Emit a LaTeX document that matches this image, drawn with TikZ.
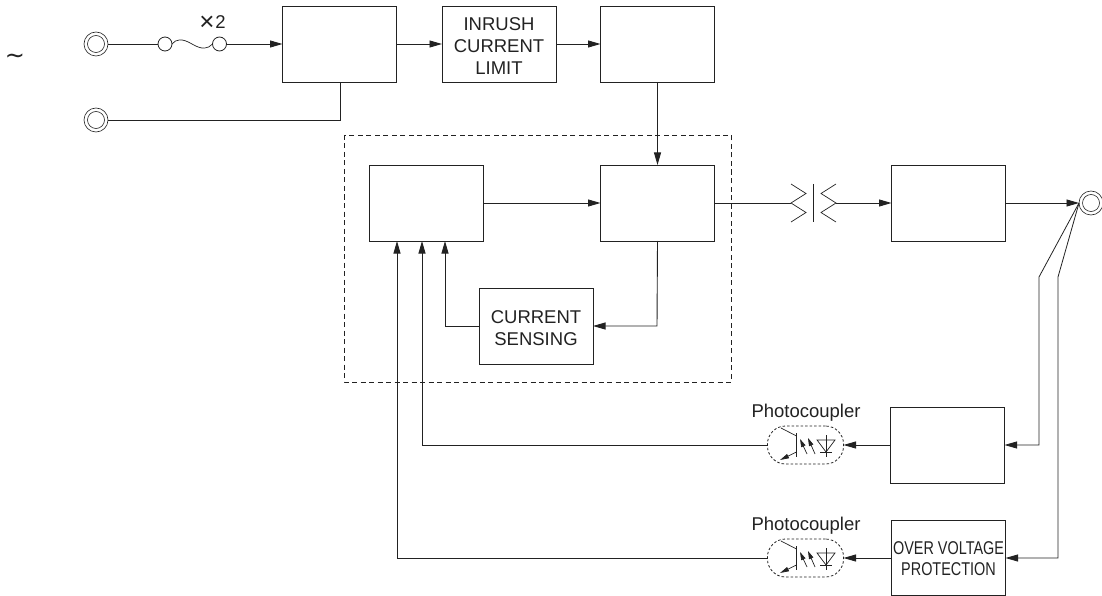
\documentclass[tikz,border=0pt]{standalone}
\usepackage{fontspec}
\setmainfont{Liberation Sans}
\newfontfamily\symfont{DejaVu Sans}
\usetikzlibrary{arrows.meta,calc}
\definecolor{ink}{HTML}{222222}
% the extra height above the block moves the text down by half of it inside its box
\newcommand{\boxtext}[2]{\raisebox{0pt}[\dimexpr\height+#1\relax][\depth]{#2}}
\tikzset{
  bx/.style={draw=ink,line width=0.9pt,inner sep=0pt,outer sep=0pt,align=center,text=ink,font=\fontsize{18.5}{22}\selectfont},
  big/.style={bx,minimum width=114pt,minimum height=76pt},
  ln/.style={draw=ink,line width=0.9pt},
  arr/.style={ln,-{Triangle[length=12.5pt,width=7pt]}},
  thin/.style={draw=ink,line width=0.7pt},
  termo/.style={circle,draw=ink,line width=0.6pt,minimum size=24pt,inner sep=0pt,outer sep=0pt},
  termi/.style={circle,draw=ink,line width=0.6pt,minimum size=17pt,inner sep=0pt},
  fusec/.style={circle,draw=ink,line width=0.8pt,minimum size=14pt,inner sep=0pt,outer sep=0pt},
  pc/.style={draw=ink,dashed,dash pattern=on 2.5pt off 2pt,line width=0.8pt,rounded corners=18pt,minimum width=76pt,minimum height=38pt,inner sep=0pt,outer sep=0pt},
  lbl/.style={text=ink,inner sep=0pt,font=\fontsize{18.5}{22}\selectfont},
  smalltip/.style={thin,-{Triangle[length=8pt,width=4.5pt]}}
}
\newcommand{\coupler}[2]{%
  \node[pc] (#1) at (805.5,#2) {};
  \coordinate (#1c1) at (781,#2-17);
  \coordinate (#1c2) at (796.5,#2-9);
  \coordinate (#1e1) at (796.5,#2+7);
  \coordinate (#1e2) at (780,#2+15);
  \draw[ln,line width=1pt] (796.5,#2-12) -- (796.5,#2+12);
  \draw[thin] (#1c1) -- (#1c2);
  \draw[thin,-{Triangle[length=9pt,width=4.5pt]}] (#1e1) -- (#1e2);
  \draw[smalltip] (807,#2+9) -- (800,#2-6);
  \draw[smalltip] (815,#2+9) -- (808,#2-7);
  \draw[thin] (817,#2-5) -- (835,#2-5) -- (826,#2+7) -- cycle;
  \draw[thin] (820,#2+7) -- (832,#2+7);
  \draw[thin] (826,#2-10) -- (826,#2+12);
}
\begin{document}
\begin{tikzpicture}[x=1pt,y=-1pt]
\useasboundingbox (0,0) rectangle (1102,596);
% dashed enclosure
\draw[ink,line width=0.8pt,dash pattern=on 5pt off 3.5pt] (344,135) rectangle (731,382);
% boxes
\node[big] (b1) at (339.5,44) {};
\node[big] (inrush) at (499,44) {\boxtext{8pt}{\begin{tabular}{@{}c@{}}INRUSH\\CURRENT\\LIMIT\end{tabular}}};
\node[big] (b3) at (657.5,44) {};
\node[big] (ctl) at (426.5,203) {};
\node[big] (sw) at (657.5,203) {};
\node[big] (cs) at (536,326) {\boxtext{8pt}{\begin{tabular}{@{}c@{}}CURRENT\\SENSING\end{tabular}}};
\node[big] (outb) at (948.5,203) {};
\node[big] (fb) at (947.5,445) {};
\node[big,minimum height=75pt] (ovp) at (948.5,558) {\boxtext{6pt}{\scalebox{0.78}[1]{\begin{tabular}{@{}c@{}}OVER VOLTAGE\\[-1pt]PROTECTION\end{tabular}}}};
% terminals
\node[termo] (t1) at (96,44) {};
\node[termi] at (96,44) {};
\node[termo] (t2) at (96,120) {};
\node[termi] at (96,120) {};
\node[termo] (t3) at (1091,203) {};
\node[termi] at (1091,203) {};
% labels
\node[text=ink,inner sep=0pt,font=\symfont\fontsize{24}{26}\selectfont] (tilde) at (15,59) {∼};
\node[lbl] (x2) at (212.5,23) {\raisebox{-2pt}{\fontsize{26}{26}\selectfont ×}\hspace{1pt}2};
\node[lbl] (ph1) at (806,413) {Photocoupler};
\node[lbl] (ph2) at (806,526) {Photocoupler};
% fuse
\node[fusec] (f1) at (165,44) {};
\node[fusec] (f2) at (219.5,44) {};
\draw[thin] (f1.east) .. controls (176,39) and (182,38) .. (192,44) .. controls (202,50) and (208,49) .. (f2.west);
% mains connectors
\draw[ln] (t1) -- (f1);
\draw[arr] (f2) -- (b1);
\draw[ln] (t2) -- (340,120) -- (340,82);
\draw[arr] (b1) -- (inrush);
\draw[arr] (inrush) -- (b3);
\draw[arr] (b3) -- (sw);
\draw[arr] (ctl) -- (sw);
% current sensing loop
\coordinate (c1) at (657,326);
\draw[arr] (sw.south) -- (c1) -- (cs.east);
\coordinate (c2) at (445,326);
\coordinate (c3) at (445,241);
\draw[arr] (cs.west) -- (c2) -- (c3);
% isolating connector
\coordinate (conL) at (791,203);
\coordinate (conR) at (836,203);
\draw[ln] (sw) -- (conL);
\draw[arr] (conR) -- (outb);
\draw[thin] (791,184) -- (806,193.5) -- (conL) -- (806,212.5) -- (791,222);
\draw[thin] (836,184) -- (821,193.5) -- (conR) -- (821,212.5) -- (836,222);
\draw[thin] (813,184) -- (813,222);
\draw[arr] (outb) -- (t3);
% feedback sense
\coordinate (k1) at (1039,277);
\coordinate (k2) at (1058,277);
\draw[ln,line width=0.8pt,-{Triangle[length=12.5pt,width=7pt]}] (t3.west) -- (k1) -- (1039,445) -- (fb.east);
\draw[ln,line width=0.8pt,-{Triangle[length=12.5pt,width=7pt]}] (t3.west) -- (k2) -- (1058,558) -- (ovp.east);
% photocouplers
\coupler{pa}{445}
\coupler{pb}{558}
\draw[arr] (fb) -- (pa);
\draw[arr] (ovp) -- (pb);
\coordinate (d1) at (422,445);
\coordinate (d2) at (422,241);
\coordinate (e1) at (397,558);
\coordinate (e2) at (397,241);
\draw[arr] (pa.west) -- (d1) -- (d2);
\draw[arr] (pb.west) -- (e1) -- (e2);
\end{tikzpicture}
\end{document}
